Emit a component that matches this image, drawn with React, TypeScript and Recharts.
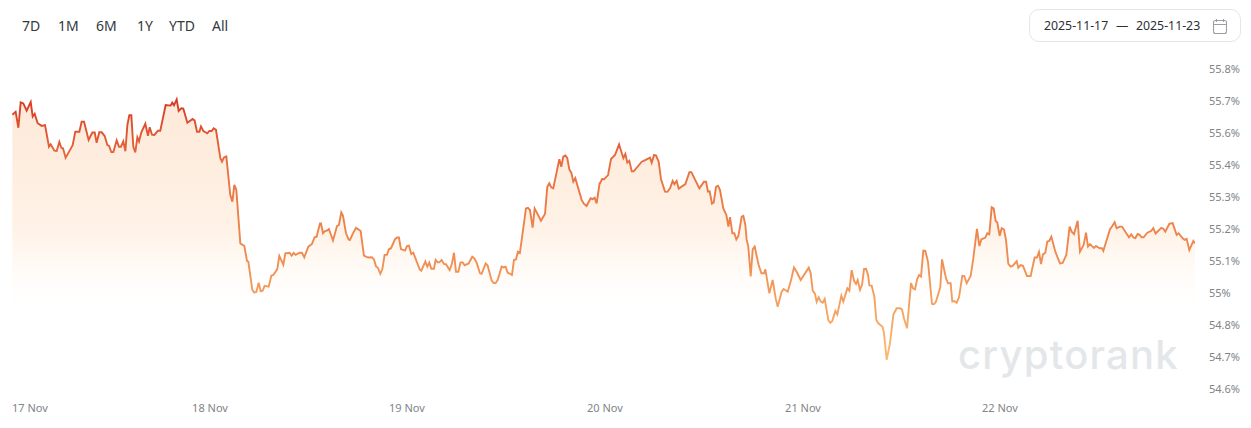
import { AreaChart, Area, XAxis, YAxis } from 'recharts';

// time of each sample in hours, value in percent
const hoursA = [0.74, 1.14, 1.47, 1.75, 2.07, 2.47, 2.96, 3.2, 3.44, 3.8, 4.29, 4.69, 5.17, 5.37, 5.82, 6.1, 6.42, 6.66, 6.86, 7.18, 8.03, 8.35, 8.84, 9.12, 9.4, 9.96, 10.41, 10.69, 10.93, 11.25, 11.54, 11.9, 12.22, 12.42, 12.7, 12.95, 13.35, 13.63, 13.87, 14.15, 14.4, 14.64, 14.88, 15.12, 15.36, 15.6, 15.85, 16.05, 16.33, 16.81, 17.13, 17.34, 17.62, 17.9, 18.34, 18.62, 19.27, 19.87, 20.07, 20.28, 20.6, 20.84, 21.16, 21.4, 21.89, 22.53, 22.77, 23.06, 23.34, 23.54, 23.82, 24.3, 24.55, 24.83, 25.07, 25.35, 25.88, 26.08, 26.32, 26.6, 27.08, 27.33, 27.57, 27.81, 28.29, 28.78, 29.1, 29.26, 29.74, 29.98, 30.23, 30.51, 30.75, 30.99, 31.23, 31.72, 32.04, 32.28, 32.76, 33.0, 33.49, 33.73, 34.25, 34.5, 34.74, 34.98, 35.46];
const valuesA = [55.629, 55.64, 55.58, 55.675, 55.671, 55.644, 55.676, 55.622, 55.632, 55.597, 55.587, 55.59, 55.509, 55.518, 55.494, 55.493, 55.527, 55.505, 55.503, 55.468, 55.515, 55.565, 55.565, 55.603, 55.603, 55.534, 55.562, 55.562, 55.524, 55.563, 55.563, 55.549, 55.515, 55.513, 55.489, 55.489, 55.533, 55.509, 55.509, 55.529, 55.492, 55.59, 55.627, 55.627, 55.509, 55.488, 55.544, 55.529, 55.563, 55.595, 55.55, 55.582, 55.554, 55.553, 55.569, 55.569, 55.665, 55.663, 55.674, 55.664, 55.686, 55.643, 55.653, 55.652, 55.599, 55.613, 55.607, 55.565, 55.565, 55.585, 55.568, 55.559, 55.568, 55.568, 55.578, 55.572, 55.466, 55.453, 55.469, 55.473, 55.328, 55.303, 55.366, 55.347, 55.147, 55.137, 55.081, 55.079, 54.973, 54.963, 54.965, 55.0, 54.968, 54.97, 54.988, 54.985, 55.026, 55.029, 55.051, 55.1, 55.067, 55.11, 55.112, 55.101, 55.111, 55.104, 55.112];

const hoursB = [35.5, 35.74, 36.02, 36.51, 36.95, 37.27, 37.51, 37.92, 38.04, 38.28, 38.52, 38.76, 39.0, 39.49, 39.97, 40.21, 40.49, 40.7, 41.06, 41.38, 41.54, 41.86, 42.27, 42.67, 42.83, 43.23, 43.72, 44.2, 44.44, 44.68, 44.93, 45.21, 45.45, 45.73, 46.01, 46.25, 46.5, 46.98, 47.22, 47.46, 47.7, 48.19, 48.43, 48.67, 48.95, 49.2, 49.96, 50.16, 50.65, 50.89, 51.13, 51.37, 51.69, 51.89, 52.14, 52.34, 52.62, 52.9, 53.14, 53.59, 53.87, 54.11, 54.35, 54.63, 54.91, 55.16, 55.4, 55.88, 56.32, 56.57, 56.85, 57.25, 57.45, 57.94, 58.18, 58.66, 58.9, 59.14, 59.39, 59.87, 60.11, 60.35, 60.59, 61.12, 61.36, 61.6, 61.84, 62.08, 62.81, 63.05, 63.29, 63.62, 63.86, 64.62, 65.11, 65.39, 65.63, 65.87, 66.11, 66.84, 67.08, 67.32, 67.56, 67.8, 68.05, 68.29, 68.53, 68.77, 69.54, 69.82, 70.14, 70.62, 70.87, 71.11, 71.35, 71.71];
const valuesB = [55.112, 55.112, 55.095, 55.135, 55.145, 55.17, 55.172, 55.222, 55.222, 55.185, 55.193, 55.195, 55.201, 55.158, 55.212, 55.216, 55.263, 55.25, 55.185, 55.162, 55.16, 55.182, 55.205, 55.197, 55.193, 55.101, 55.094, 55.095, 55.087, 55.062, 55.055, 55.033, 55.05, 55.104, 55.104, 55.125, 55.129, 55.162, 55.169, 55.169, 55.126, 55.12, 55.137, 55.139, 55.107, 55.112, 55.05, 55.045, 55.079, 55.06, 55.075, 55.052, 55.052, 55.085, 55.076, 55.076, 55.085, 55.07, 55.069, 55.047, 55.072, 55.112, 55.041, 55.041, 55.076, 55.076, 55.065, 55.072, 55.097, 55.091, 55.075, 55.035, 55.033, 55.072, 55.064, 55.008, 54.999, 54.999, 55.01, 55.06, 55.057, 55.06, 55.038, 55.029, 55.085, 55.087, 55.116, 55.112, 55.278, 55.28, 55.272, 55.206, 55.278, 55.232, 55.257, 55.359, 55.372, 55.357, 55.353, 55.462, 55.434, 55.472, 55.476, 55.467, 55.424, 55.412, 55.378, 55.391, 55.31, 55.295, 55.287, 55.316, 55.313, 55.318, 55.297, 55.372];

const hoursC = [71.76, 72.0, 72.24, 72.73, 73.09, 73.57, 74.06, 74.58, 74.82, 75.06, 75.3, 75.59, 75.83, 76.8, 77.04, 77.8, 78.0, 78.29, 78.53, 78.85, 79.13, 79.61, 79.9, 80.22, 80.54, 80.74, 81.02, 81.27, 82.07, 82.56, 82.8, 83.76, 84.33, 84.57, 84.81, 85.01, 85.29, 85.5, 85.78, 86.02, 86.26, 86.66, 87.03, 87.27, 87.47, 87.75, 87.99, 88.23, 88.48, 88.88, 89.08, 89.32, 89.48, 89.68, 89.97, 90.21, 90.45, 90.93, 91.26, 91.58, 91.74, 92.22, 92.62, 92.99, 93.23, 93.71, 93.95, 94.44, 94.8, 95.2, 95.52, 96.01, 96.98, 97.22, 97.46, 97.74, 97.94, 98.18, 98.43, 98.67, 98.91, 99.35, 99.59, 99.83, 100.2, 100.44, 100.92, 101.16, 101.65, 101.89, 102.17, 102.45, 102.7, 102.9, 103.18, 103.42, 103.66, 103.9, 104.15, 104.31, 104.59, 104.91, 105.15, 105.39, 105.92, 106.08, 106.4, 106.8, 107.21, 107.61];
const valuesC = [55.372, 55.388, 55.387, 55.403, 55.463, 55.478, 55.518, 55.466, 55.482, 55.449, 55.456, 55.417, 55.417, 55.453, 55.456, 55.468, 55.449, 55.478, 55.476, 55.453, 55.387, 55.341, 55.34, 55.353, 55.381, 55.369, 55.381, 55.352, 55.369, 55.414, 55.414, 55.353, 55.378, 55.378, 55.341, 55.342, 55.296, 55.3, 55.359, 55.363, 55.347, 55.278, 55.253, 55.21, 55.245, 55.185, 55.185, 55.162, 55.175, 55.247, 55.25, 55.216, 55.16, 55.135, 55.023, 55.125, 55.135, 55.066, 55.035, 55.035, 55.05, 54.96, 55.01, 54.941, 54.91, 54.966, 54.976, 54.966, 55.004, 55.057, 55.041, 55.01, 55.056, 55.035, 54.97, 54.958, 54.928, 54.945, 54.929, 54.925, 54.939, 54.86, 54.85, 54.857, 54.894, 54.881, 54.951, 54.929, 54.979, 54.97, 55.047, 55.008, 54.995, 55.01, 54.973, 54.991, 55.051, 55.052, 55.029, 54.99, 54.988, 54.948, 54.86, 54.848, 54.834, 54.81, 54.711, 54.773, 54.881, 54.904];

const hoursD = [108.01, 108.25, 108.49, 108.86, 109.34, 109.58, 109.82, 110.06, 110.31, 110.55, 110.83, 111.07, 111.39, 111.88, 112.12, 112.36, 112.88, 113.09, 113.57, 113.81, 114.13, 114.33, 114.58, 114.86, 115.14, 115.54, 115.78, 116.07, 116.55, 116.87, 117.31, 117.6, 117.84, 118.32, 118.56, 118.8, 119.09, 119.33, 119.57, 119.77, 120.05, 120.3, 120.58, 120.82, 121.1, 121.38, 121.62, 122.11, 122.31, 122.59, 122.87, 123.36, 123.8, 124.28, 124.56, 124.81, 125.05, 125.29, 125.57, 125.81, 126.05, 126.3, 126.78, 127.34, 127.67, 128.11, 128.51, 128.75, 129.04, 129.48, 129.76, 130.2, 130.49, 130.73, 130.97, 131.21, 131.45, 131.69, 131.94, 132.18, 132.42, 132.58, 133.39, 133.67, 133.95, 134.19, 134.59, 134.84, 135.68, 135.96, 136.21, 136.45, 136.73, 136.97, 137.21, 137.45, 137.9, 138.38, 138.62, 138.9, 139.59, 139.83, 140.07, 140.56, 140.96, 141.44, 141.68, 142.17, 142.41, 142.65, 142.97, 143.46, 143.66];
const valuesD = [54.904, 54.9, 54.867, 54.829, 54.998, 54.979, 54.975, 55.01, 55.029, 55.023, 55.12, 55.119, 55.079, 54.92, 54.919, 54.929, 54.983, 55.087, 55.016, 54.998, 54.998, 54.929, 54.931, 54.925, 54.945, 55.026, 55.025, 54.998, 55.025, 55.091, 55.201, 55.137, 55.162, 55.169, 55.185, 55.181, 55.282, 55.278, 55.231, 55.225, 55.175, 55.204, 55.199, 55.16, 55.07, 55.06, 55.063, 55.08, 55.056, 55.066, 55.063, 55.025, 55.025, 55.094, 55.094, 55.115, 55.07, 55.106, 55.112, 55.154, 55.156, 55.172, 55.116, 55.072, 55.074, 55.104, 55.21, 55.191, 55.182, 55.232, 55.116, 55.141, 55.187, 55.135, 55.144, 55.137, 55.13, 55.137, 55.132, 55.129, 55.129, 55.119, 55.2, 55.212, 55.226, 55.204, 55.21, 55.21, 55.17, 55.181, 55.169, 55.167, 55.182, 55.179, 55.17, 55.17, 55.187, 55.194, 55.204, 55.184, 55.205, 55.202, 55.191, 55.22, 55.223, 55.179, 55.185, 55.166, 55.16, 55.164, 55.122, 55.156, 55.147];

const dayTicks = [0.7, 24.63, 48.43, 72.36, 96.29, 120.09];
const dayLabels = ['17 Nov', '18 Nov', '19 Nov', '20 Nov', '21 Nov', '22 Nov'];
const yTicks = [54.6, 54.72, 54.84, 54.96, 55.08, 55.2, 55.32, 55.44, 55.56, 55.68, 55.8];
const ranges = ['7D', '1M', '6M', '1Y', 'YTD', 'All'];
const rangeLeft = [22, 58, 96, 137, 169, 212];

const hours = [...hoursA, ...hoursB, ...hoursC, ...hoursD];
const values = [...valuesA, ...valuesB, ...valuesC, ...valuesD];
const data = hours.map((hour, i) => ({ hour, value: values[i] }));

const font = '"Noto Sans", sans-serif';

const DayTick = ({ x, y, payload, index }: any) => (
  <text x={x} y={y} dy={4} textAnchor={index === 0 ? 'start' : 'middle'} fontSize={11} fontFamily={font} fill="#808488">
    {dayLabels[dayTicks.indexOf(payload.value)]}
  </text>
);

const formatPct = (v: number) => `${parseFloat(v.toFixed(1))}%`;

export default function App() {
  return (
    <div style={{ position: 'absolute', left: 0, top: 0, width: 1251, height: 428, background: '#fff', fontFamily: font, overflow: 'hidden' }}>
      {ranges.map((r, i) => (
        <span key={r} style={{ position: 'absolute', left: rangeLeft[i], top: 16, fontSize: 14, lineHeight: '20px', color: '#33383d' }}>{r}</span>
      ))}

      <div style={{ position: 'absolute', left: 1029, top: 9, width: 210, height: 31, border: '1px solid #e4e6e9', borderRadius: 10 }} />
      <span style={{ position: 'absolute', left: 1044, top: 16, fontSize: 12.3, lineHeight: '20px', color: '#2b3036', whiteSpace: 'pre' }}>2025-11-17</span>
      <span style={{ position: 'absolute', left: 1116, top: 16, fontSize: 12.3, lineHeight: '20px', color: '#2b3036' }}>—</span>
      <span style={{ position: 'absolute', left: 1136, top: 16, fontSize: 12.3, lineHeight: '20px', color: '#2b3036', whiteSpace: 'pre' }}>2025-11-23</span>
      <svg style={{ position: 'absolute', left: 1212, top: 18 }} width={16} height={17} viewBox="0 0 16 17" fill="none" stroke="#9b9fa4" strokeWidth={1.1}>
        <rect x={1.5} y={2.5} width={13} height={13} rx={2} />
        <path d="M1.5 6.5h13M4.5 1v3M11.5 1v3" />
      </svg>

      <span style={{ position: 'absolute', left: 958, top: 330, fontFamily: 'Inter, sans-serif', fontSize: 40, lineHeight: '50px', fontWeight: 500, letterSpacing: 1.2, color: '#e4e7ea' }}>cryptorank</span>

      <div style={{ position: 'absolute', left: 0, top: 0 }}>
        <AreaChart width={1251} height={428} data={data} margin={{ top: 69, right: 0, bottom: 0, left: 12 }}>
          <defs>
            <linearGradient id="lineGrad" x1="0" y1="0" x2="0" y2="1">
              <stop offset="0%" stopColor="#d63a24" />
              <stop offset="25%" stopColor="#e8703f" />
              <stop offset="60%" stopColor="#ef8c52" />
              <stop offset="100%" stopColor="#fabb72" />
            </linearGradient>
            <linearGradient id="fillGrad" x1="0" y1="0" x2="0" y2="1">
              <stop offset="0%" stopColor="#fde9d9" />
              <stop offset="45%" stopColor="#fff2e6" />
              <stop offset="72%" stopColor="#fffaf5" stopOpacity={0} />
            </linearGradient>
          </defs>
          <XAxis dataKey="hour" type="number" scale="linear" domain={[0.7, 143.66]} ticks={dayTicks} interval={0}
            axisLine={false} tickLine={false} height={38.5} tick={<DayTick />} tickMargin={12} allowDataOverflow />
          <YAxis orientation="right" width={56} domain={[54.6, 55.8]} ticks={yTicks} interval={0} tickFormatter={formatPct}
            axisLine={false} tickLine={false} tickMargin={8} allowDataOverflow
            tick={{ fontSize: 11, fontFamily: font, fill: '#808488', textAnchor: 'start' }} />
          <Area type="linear" dataKey="value" stroke="url(#lineGrad)" strokeWidth={1.9} fill="url(#fillGrad)" fillOpacity={1}
            dot={false} activeDot={false} isAnimationActive={false} />
        </AreaChart>
      </div>
    </div>
  );
}
